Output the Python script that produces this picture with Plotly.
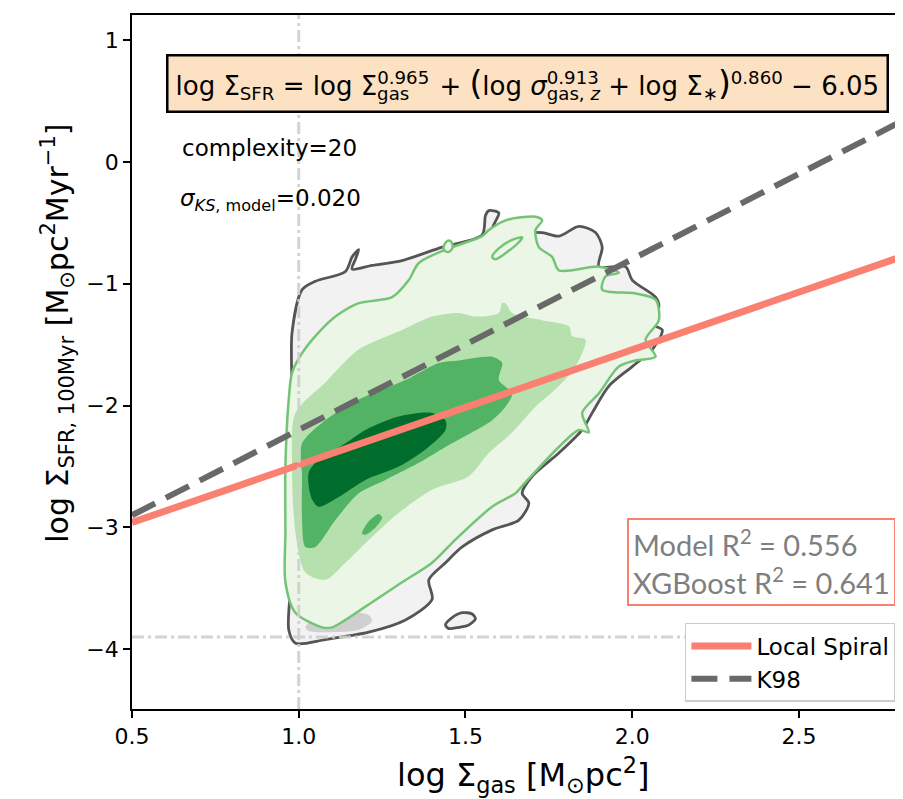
import plotly.graph_objects as go

# ---------------- data ----------------
X_RANGE = [0.5, 2.806]
Y_RANGE = [-4.49, 1.205]
X_TICKS = [0.5, 1.0, 1.5, 2.0, 2.5]
X_TICK_LABELS = ["0.5", "1.0", "1.5", "2.0", "2.5"]
Y_TICKS = [-4, -3, -2, -1, 0, 1]
Y_TICK_LABELS = ["\u22124", "\u22123", "\u22122", "\u22121", "0", "1"]

LOCAL_SPIRAL_X = [0.5, 2.806]
LOCAL_SPIRAL_Y = [-2.96, -0.78]
K98_X = [0.5, 2.806]
K98_Y = [-2.90, 0.33]

VLINE_X = 1.0
HLINE_Y = -3.9

# KDE contour polygons (log Sigma_gas, log Sigma_SFR)
GRAY_OUTER_X = [1.01, 1.05, 1.14, 1.16, 1.18, 1.17, 1.16, 1.22, 1.31, 1.43, 1.55, 1.56, 1.57, 1.60, 1.58,
                1.64, 1.73, 1.78, 1.84, 1.89, 1.91, 1.90, 1.98, 2.00, 2.07, 2.08, 2.05, 2.09, 2.06, 2.00,
                1.93, 1.88, 1.85, 1.78, 1.70, 1.67, 1.69, 1.66, 1.58, 1.49, 1.44, 1.39, 1.40, 1.32, 1.21,
                1.08, 0.99, 0.97, 0.98, 0.97, 0.98, 0.98]
GRAY_OUTER_Y = [-1.05, -0.98, -0.90, -0.78, -0.72, -0.80, -0.88, -0.85, -0.81, -0.70, -0.60, -0.44, -0.40, -0.42, -0.56,
                -0.58, -0.58, -0.61, -0.53, -0.58, -0.70, -0.86, -0.86, -0.97, -1.11, -1.19, -1.32, -1.38, -1.54, -1.68,
                -1.84, -2.06, -2.20, -2.39, -2.58, -2.72, -2.80, -2.94, -3.02, -3.16, -3.29, -3.43, -3.59, -3.76, -3.86,
                -3.92, -3.95, -3.84, -3.32, -2.77, -1.95, -1.40]
GRAY_LOOP_X = [1.44, 1.46, 1.49, 1.52, 1.53, 1.51, 1.48, 1.45]
GRAY_LOOP_Y = [-3.80, -3.74, -3.70, -3.71, -3.75, -3.80, -3.82, -3.83]
GRAY_PATCH_LEFT_X = [1.02, 1.05, 1.08, 1.06, 1.03]
GRAY_PATCH_LEFT_Y = [-1.54, -1.43, -1.40, -1.49, -1.62]
GRAY_PATCH_BOTTOM_X = [1.02, 1.06, 1.14, 1.21, 1.22, 1.18, 1.09, 1.03]
GRAY_PATCH_BOTTOM_Y = [-3.82, -3.72, -3.69, -3.72, -3.77, -3.84, -3.86, -3.85]

GREEN_OUTER_X = [0.96, 0.96, 0.99, 1.07, 1.10, 1.20, 1.31, 1.40, 1.47, 1.58, 1.65, 1.67, 1.78, 1.84, 1.87,
                 1.85, 1.90, 1.96, 2.01, 2.07, 2.04, 2.08, 2.07, 2.01, 1.91, 1.92, 1.96, 1.90, 1.78, 1.76,
                 1.72, 1.71, 1.73, 1.71, 1.62, 1.57, 1.55, 1.44, 1.36, 1.33, 1.28, 1.18, 1.11, 1.06, 1.01,
                 0.98, 0.97, 0.96]
GREEN_OUTER_Y = [-3.04, -3.45, -3.70, -3.82, -3.82, -3.65, -3.45, -3.29, -3.10, -2.83, -2.72, -2.66, -2.34, -2.20, -2.22,
                 -2.06, -1.90, -1.68, -1.63, -1.60, -1.46, -1.30, -1.13, -1.08, -1.05, -0.94, -0.91, -0.86, -0.89, -0.78,
                 -0.70, -0.56, -0.48, -0.45, -0.48, -0.56, -0.61, -0.72, -0.83, -0.97, -1.11, -1.16, -1.27, -1.40, -1.57,
                 -1.73, -1.95, -2.50]
GREEN_RING_A_X = [1.435, 1.445, 1.455, 1.462, 1.455, 1.445, 1.435]
GREEN_RING_A_Y = [-0.69, -0.65, -0.65, -0.69, -0.73, -0.74, -0.72]
GREEN_RING_B_X = [1.58, 1.60, 1.64, 1.67, 1.66, 1.62, 1.59]
GREEN_RING_B_Y = [-0.78, -0.71, -0.64, -0.62, -0.66, -0.75, -0.80]

GREEN_L2_X = [0.99, 1.08, 1.18, 1.31, 1.40, 1.48, 1.53, 1.60, 1.61, 1.62, 1.64, 1.73, 1.81, 1.82, 1.86,
              1.83, 1.78, 1.71, 1.64, 1.57, 1.51, 1.40, 1.30, 1.20, 1.14, 1.08, 1.02, 0.99, 0.98]
GREEN_L2_Y = [-2.06, -1.81, -1.54, -1.38, -1.27, -1.24, -1.27, -1.24, -1.16, -1.16, -1.24, -1.30, -1.35, -1.43, -1.46,
              -1.68, -1.84, -2.01, -2.22, -2.39, -2.58, -2.69, -2.88, -3.13, -3.29, -3.43, -3.37, -3.04, -2.50]

GREEN_L3_X = [1.01, 1.08, 1.18, 1.32, 1.42, 1.48, 1.58, 1.61, 1.60, 1.64, 1.62, 1.58, 1.52, 1.44, 1.36,
              1.26, 1.18, 1.11, 1.05, 1.02, 1.01, 1.01]
GREEN_L3_Y = [-2.31, -2.12, -1.95, -1.79, -1.65, -1.63, -1.60, -1.65, -1.79, -1.90, -2.01, -2.12, -2.22, -2.34, -2.47,
              -2.61, -2.72, -2.94, -3.16, -3.16, -2.94, -2.58]
GREEN_L3_ISLAND_X = [1.19, 1.21, 1.24, 1.25, 1.23, 1.20]
GREEN_L3_ISLAND_Y = [-3.05, -2.95, -2.89, -2.92, -3.00, -3.06]

GREEN_L4_X = [1.03, 1.05, 1.14, 1.20, 1.30, 1.40, 1.44, 1.44, 1.38, 1.30, 1.20, 1.12, 1.06, 1.04, 1.03]
GREEN_L4_Y = [-2.55, -2.47, -2.31, -2.20, -2.09, -2.06, -2.12, -2.20, -2.36, -2.50, -2.61, -2.75, -2.83, -2.77, -2.66]


def shift(px):
    # horizontal shift used to stack a subscript under a superscript
    return '<span style="letter-spacing:%.1fpx">\u00a0</span>' % px


EQ_FS = 26
NBSP_W = 0.318 * EQ_FS
SCRIPT_FS = 0.7 * EQ_FS
SUP_W = 2.862 * SCRIPT_FS          # width of "0.965"/"0.913"
GAS_W = 1.769 * SCRIPT_FS          # width of "gas"
EQUATION = ("log \u03a3<sub>SFR</sub> = log \u03a3<sup>0.965</sup>" + shift(-SUP_W - NBSP_W) +
            "<sub>gas</sub>" + shift(SUP_W - GAS_W - NBSP_W + 2) + " + "
            '<span style="font-size:%dpx">(</span>' % int(EQ_FS * 1.3) +
            "log <i>\u03c3</i><sup>0.913</sup>" + shift(-SUP_W - NBSP_W) +
            "<sub>gas, <i>z</i></sub> + log \u03a3<sub>\u2217</sub>" +
            '<span style="font-size:%dpx">)</span>' % int(EQ_FS * 1.3) +
            "<sup>0.860</sup> \u2212 6.05")
COMPLEXITY_TEXT = "complexity=20"
SIGMA_TEXT = "<i>\u03c3</i><sub><i>KS</i>, model</sub>=0.020"
R2_TEXT = "Model R<sup>2</sup> = 0.556<br>XGBoost R<sup>2</sup> = 0.641"
X_TITLE = "log \u03a3<sub>gas</sub> [M<sub>\u2299</sub>pc<sup>2</sup>]"
Y_TITLE = "log \u03a3<sub>SFR, 100Myr</sub> [M<sub>\u2299</sub>pc<sup>2</sup>Myr<sup>\u22121</sup>]"

# ---------------- styles ----------------
FONT = "DejaVu Sans"
GRAY_FILL = "#f2f2f2"
GRAY_LINE = "#555555"
GRAY_PATCH = "#cfcfcf"
G0_FILL = "#ebf6e7"
G0_LINE = "#74c476"
G2_FILL = "#b6e1ae"
G3_FILL = "#52b365"
G4_FILL = "#006d2c"
SALMON = "#fa8072"
DIMGRAY = "#696969"

fig = go.Figure()


def poly(x, y, fill, line_color=None, line_width=0, smooth=True):
    fig.add_trace(go.Scatter(
        x=x + x[:1], y=y + y[:1], mode="lines", fill="toself", fillcolor=fill,
        line=dict(color=line_color if line_color else fill, width=line_width,
                  shape="spline" if smooth else "linear", smoothing=0.8),
        showlegend=False, hoverinfo="skip"))


poly(GRAY_OUTER_X, GRAY_OUTER_Y, GRAY_FILL, GRAY_LINE, 2.8)
poly(GRAY_LOOP_X, GRAY_LOOP_Y, GRAY_FILL, GRAY_LINE, 2.8)
poly(GRAY_PATCH_LEFT_X, GRAY_PATCH_LEFT_Y, GRAY_PATCH)
poly(GRAY_PATCH_BOTTOM_X, GRAY_PATCH_BOTTOM_Y, GRAY_PATCH)
poly(GREEN_OUTER_X, GREEN_OUTER_Y, G0_FILL, G0_LINE, 2.5)
poly(GREEN_RING_A_X, GREEN_RING_A_Y, G0_FILL, G0_LINE, 2.5)
poly(GREEN_RING_B_X, GREEN_RING_B_Y, G0_FILL, G0_LINE, 2.5)
poly(GREEN_L2_X, GREEN_L2_Y, G2_FILL)
poly(GREEN_L3_X, GREEN_L3_Y, G3_FILL)
poly(GREEN_L3_ISLAND_X, GREEN_L3_ISLAND_Y, G3_FILL)
poly(GREEN_L4_X, GREEN_L4_Y, G4_FILL)

fig.add_trace(go.Scatter(x=LOCAL_SPIRAL_X, y=LOCAL_SPIRAL_Y, mode="lines", name="Local Spiral",
                         line=dict(color=SALMON, width=7)))
fig.add_trace(go.Scatter(x=K98_X, y=K98_Y, mode="lines", name="K98",
                         line=dict(color=DIMGRAY, width=6, dash="26px,12px")))

fig.add_vline(x=VLINE_X, line=dict(color="#cfcfcf", width=3, dash="12px,4px,3px,4px"), opacity=0.9)
fig.add_hline(y=HLINE_Y, line=dict(color="#cfcfcf", width=3, dash="12px,4px,3px,4px"), opacity=0.9)

fig.add_annotation(xref="paper", yref="paper", x=0.514, y=0.902, xanchor="center", yanchor="middle",
                   text=EQUATION, showarrow=False, font=dict(family=FONT, size=EQ_FS, color="black"),
                   bgcolor="#fde1c3", bordercolor="black", borderwidth=2.5, borderpad=7)
fig.add_annotation(xref="paper", yref="paper", x=0.062, y=0.808, xanchor="left", yanchor="middle",
                   text=COMPLEXITY_TEXT, showarrow=False, font=dict(family=FONT, size=23, color="black"))
fig.add_annotation(xref="paper", yref="paper", x=0.060, y=0.733, xanchor="left", yanchor="middle",
                   text=SIGMA_TEXT, showarrow=False, font=dict(family=FONT, size=23, color="black"))
fig.add_annotation(xref="paper", yref="paper", x=0.6436, y=0.2124, xanchor="left", yanchor="middle",
                   text=R2_TEXT, showarrow=False, align="left",
                   font=dict(family="Lato", size=29, color="#7f7f7f"),
                   bgcolor="white", bordercolor=SALMON, borderwidth=2, borderpad=4)
fig.add_annotation(xref="paper", yref="paper", x=0.509, y=-0.095, xanchor="center", yanchor="middle",
                   text=X_TITLE, showarrow=False, font=dict(family=FONT, size=32, color="black"))
fig.add_annotation(xref="paper", yref="paper", x=-0.0964, y=0.542, xanchor="center", yanchor="middle",
                   text=Y_TITLE, textangle=-90, showarrow=False, font=dict(family=FONT, size=30, color="black"))

# the page body adds an 8px margin: size the figure so the plot area lands where the reference has it
fig.update_layout(
    width=895, height=791,
    margin=dict(l=124, r=0, t=7, b=90),
    plot_bgcolor="white", paper_bgcolor="white",
    font=dict(family=FONT, size=22, color="black"),
    legend=dict(x=0.719, y=0.124, xanchor="left", yanchor="top", bgcolor="white",
                bordercolor="#cccccc", borderwidth=1.5, font=dict(family=FONT, size=23),
                tracegroupgap=0, itemwidth=60),
    xaxis=dict(range=X_RANGE, tickvals=X_TICKS, ticktext=X_TICK_LABELS, ticks="outside", ticklen=7,
               tickwidth=1.5, tickcolor="black", showline=True, linecolor="black", linewidth=1.8,
               mirror=True, showgrid=False, zeroline=False, tickfont=dict(family=FONT, size=22)),
    yaxis=dict(range=Y_RANGE, tickvals=Y_TICKS, ticktext=Y_TICK_LABELS, ticks="outside", ticklen=7,
               tickwidth=1.5, tickcolor="black", showline=True, linecolor="black", linewidth=1.8,
               mirror=True, showgrid=False, zeroline=False, tickfont=dict(family=FONT, size=22)),
)

fig.write_html("out.html")
